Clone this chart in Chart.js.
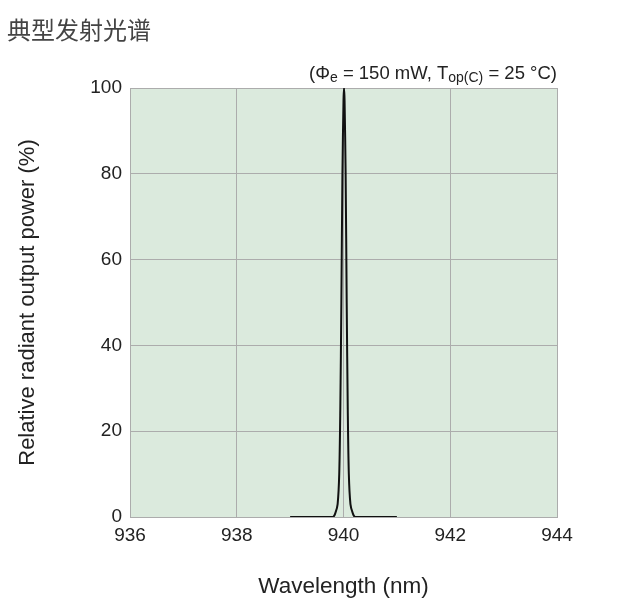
<!DOCTYPE html>
<html>
  <head>
    <title>典型发射光谱</title>
    <script src="https://cdn.jsdelivr.net/npm/chart.js"></script>
    <style>
      body { margin: 0; background: #fff; }
      #wrap { width: 639px; height: 602px; }
    </style>
  </head>
  <body>
    <div id="wrap"><canvas id="spectrumChart"></canvas></div>
    <script>
      // spectrum
      const wavelengths = [939.0, 939.80, 939.85, 939.89, 939.92, 939.94, 939.96, 939.98, 940.0, 940.01, 940.02, 940.04, 940.06, 940.08, 940.10, 940.13, 940.17, 940.22, 941.0];
      const powers = [0, 0, 1, 3, 10, 25, 50, 80, 97, 100, 97, 80, 50, 25, 10, 3, 1, 0, 0];
      const xTicks = [936, 938, 940, 942, 944];
      const yTicks = [0, 20, 40, 60, 80, 100];

      const points = wavelengths.map((w, i) => ({ x: w, y: powers[i] }));

      // green plot background + headings
      const decor = {
        id: "decor",
        beforeDraw(chart) {
          const { ctx, chartArea: a } = chart;
          ctx.save();
          ctx.fillStyle = "#dbeadd";
          ctx.fillRect(a.left, a.top, a.right - a.left, a.bottom - a.top);
          ctx.restore();
        },
        afterDraw(chart) {
          const { ctx, chartArea: a } = chart;
          ctx.save();
          ctx.fillStyle = "#444";
          ctx.font = '24px "Noto Sans CJK SC"';
          ctx.textBaseline = "alphabetic";
          ctx.textAlign = "left";
          ctx.fillText("典型发射光谱", 7, 39);

          // condition note, right aligned with the plot
          const parts = [
            ["(Φ", 18.5, 0],
            ["e", 14, 3],
            [" = 150 mW, T", 18.5, 0],
            ["op(C)", 14, 3],
            [" = 25 °C)", 18.5, 0],
          ];
          ctx.fillStyle = "#222";
          let total = 0;
          parts.forEach((p) => {
            ctx.font = p[1] + 'px "Liberation Sans"';
            total += ctx.measureText(p[0]).width;
          });
          let x = a.right - total;
          parts.forEach((p) => {
            ctx.font = p[1] + 'px "Liberation Sans"';
            ctx.fillText(p[0], x, 79 + p[2]);
            x += ctx.measureText(p[0]).width;
          });
          ctx.restore();
        },
      };

      new Chart(document.getElementById("spectrumChart"), {
        type: "line",
        data: {
          datasets: [
            {
              data: points,
              borderColor: "#111",
              borderWidth: 2,
              pointRadius: 0,
              tension: 0.3,
              fill: false,
            },
          ],
        },
        options: {
          responsive: true,
          maintainAspectRatio: false,
          animation: false,
          layout: { padding: { top: 88, right: 82, bottom: 0, left: 0 } },
          plugins: { legend: { display: false }, tooltip: { enabled: false } },
          scales: {
            x: {
              type: "linear",
              min: 936,
              max: 944,
              afterBuildTicks: (s) => { s.ticks = xTicks.map((v) => ({ value: v })); },
              afterFit: (s) => { s.height = 85; },
              grid: { color: "#acacac", drawTicks: false, lineWidth: 1 },
              border: { color: "#acacac" },
              ticks: { color: "#222", font: { family: "Liberation Sans", size: 19 }, padding: 7 },
              title: {
                display: true,
                text: "Wavelength (nm)",
                color: "#222",
                font: { family: "Liberation Sans", size: 22.5 },
                padding: { top: 3, bottom: 2 },
              },
            },
            y: {
              min: 0,
              max: 100,
              afterBuildTicks: (s) => { s.ticks = yTicks.map((v) => ({ value: v })); },
              afterFit: (s) => { s.width = 130; },
              grid: { color: "#acacac", drawTicks: false, lineWidth: 1 },
              border: { color: "#acacac" },
              ticks: { color: "#222", font: { family: "Liberation Sans", size: 19 }, padding: 8 },
              title: {
                display: true,
                text: "Relative radiant output power (%)",
                color: "#222",
                font: { family: "Liberation Sans", size: 22 },
                padding: { top: 15, bottom: 0 },
              },
            },
          },
        },
        plugins: [decor],
      });
    </script>
  </body>
</html>
